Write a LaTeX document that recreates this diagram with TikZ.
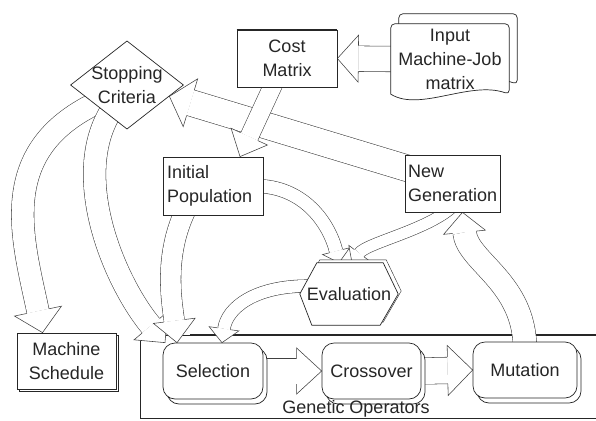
\documentclass[tikz,border=0pt]{standalone}
\usepackage{fontspec}
\setmainfont{Liberation Sans}
\usetikzlibrary{shapes.geometric,decorations.markings,shadows}
\pgfdeclarelayer{back}
\pgfdeclarelayer{arr}
\pgfsetlayers{back,arr,main}

\tikzset{
  lbl/.style={font=\fontsize{18}{24}\selectfont, text=black!85},
  box/.style={lbl, draw=black!85, line width=0.7pt, fill=white, inner sep=4pt},
  rbox/.style={box, rounded corners=12pt, minimum width=100pt, minimum height=56pt,
    copy shadow={shadow xshift=4pt, shadow yshift=-5pt}},
  shapeline/.style={draw=black!85, line width=0.7pt, fill=white},
  shaftline/.style={draw=black!75, line width=0.55pt, double=white},
  headline/.style={draw=black!75, line width=0.55pt, fill=white},
}

% #1 shaft width, #2 head width, #3 head length, #4 path
\newcommand\blockarrow[4]{%
  \draw[shaftline, double distance=#1, shorten >=#3, shorten <=-8pt] #4;
  \path[decorate, decoration={markings, mark=at position 0.9999 with {
    \draw[headline] (-#3,#1/2+0.5pt) -- (-#3,#2/2) -- (0pt,0pt) -- (-#3,-#2/2) -- (-#3,-#1/2-0.5pt);}}] #4;
}

\begin{document}
\begin{tikzpicture}[x=1pt,y=-1pt]
\useasboundingbox (0,0) rectangle (596,420);

% ---------- Genetic operators frame ----------
\begin{pgfonlayer}{back}
  \fill[white] (0,0) rectangle (596,420);
  \node[draw=black!85, line width=0.7pt, minimum width=470pt, minimum height=83pt,
        anchor=north west, inner sep=0pt] (gops) at (140,335) {};
  \draw[black!85, line width=1.4pt] ([xshift=50pt]gops.north west) -- (gops.north east);
\end{pgfonlayer}

% ---------- nodes ----------
\node[diamond, shapeline, lbl, minimum width=113pt, minimum height=86pt,
      inner sep=-5pt, align=center] (stop) at (127,85) {Stopping\\Criteria};

\node[box, minimum width=100pt, minimum height=57pt, align=center] (cost) at (287,58.5) {Cost\\Matrix};
\draw[black!85, line width=1.6pt] (cost.north west) -- (cost.north east);

% input document (stacked pages)
\node[minimum width=118pt, minimum height=70pt, inner sep=0pt] (input) at (450,59) {};
\foreach \dx/\dy in {8/10, 0/0} {
  \draw[shapeline, rounded corners=4pt]
    ([xshift=\dx pt, yshift=\dy pt]input.south west) --
    ([xshift=\dx pt, yshift=\dy pt]input.north west) --
    ([xshift=\dx pt, yshift=\dy pt]input.north east) --
    ([xshift=\dx pt, yshift=\dy pt]input.south east)
    [rounded corners=0pt] .. controls ([xshift=\dx pt-39pt, yshift=\dy pt+14pt]input.south east)
      and ([xshift=\dx pt+29pt, yshift=\dy pt-18pt]input.south west) ..
    ([xshift=\dx pt, yshift=\dy pt]input.south west) -- cycle;
}
\node[lbl, align=center] (inputtxt) at (input.center) {Input\\Machine-Job\\matrix};

\node[box, minimum height=58pt, text width=92pt, align=left] (init) at (213,186) {Initial\\Population};
\node[box, minimum height=57pt, text width=89pt, inner xsep=3pt, align=left] (newgen) at (452.5,183.5) {New\\Generation};

% evaluation hexagon
\node[minimum width=98pt, minimum height=62pt, inner sep=0pt] (eval) at (349,294) {};
\draw[shapeline, copy shadow={shadow xshift=3pt, shadow yshift=3pt}]
  (eval.west) -- ([xshift=17pt]eval.north west) -- ([xshift=-15pt]eval.north east) --
  (eval.east) -- ([xshift=-18pt]eval.south east) -- ([xshift=12pt]eval.south west) -- cycle;
\node[lbl] (evaltxt) at (eval.center) {Evaluation};

\node[rbox] (sel) at (213,371) {Selection};
\node[rbox, minimum width=99pt] (cross) at (371.5,371) {Crossover};
\node[rbox, minimum width=104pt] (mut) at (525,370) {Mutation};

\node[box, minimum width=99pt, minimum height=56pt, align=center,
      copy shadow={shadow xshift=2pt, shadow yshift=-2pt}] (mach) at (66.5,361) {Machine\\Schedule};

\node[lbl] (gopslbl) at (356,409) {Genetic Operators};

% ---------- block arrows ----------
\begin{pgfonlayer}{arr}
  \blockarrow{22pt}{48pt}{22pt}{(stop.210) .. controls +(-100,45) and +(-20,-95) .. ([xshift=-24pt]mach.north)}
  \blockarrow{22pt}{44pt}{22pt}{(stop.238) .. controls +(-40,60) and +(-50,-60) .. ([xshift=-48pt]sel.north)}
  \blockarrow{20pt}{42pt}{22pt}{([xshift=-30pt]init.south) .. controls +(-20,40) and +(-5,-40) .. ([xshift=-36pt]sel.north)}
  \blockarrow{26pt}{50pt}{22pt}{([yshift=16pt]newgen.west) -- (stop.-15)}
  \blockarrow{18pt}{40pt}{22pt}{([xshift=-15pt]cost.south) -- ([xshift=27pt]init.north)}
  \blockarrow{25pt}{47pt}{21pt}{(input.west) -- (cost.east)}
  \blockarrow{13pt}{28pt}{12pt}{(init.east) .. controls +(40,0) and +(-10,-40) .. ([xshift=-10pt]eval.north)}
  \blockarrow{11pt}{26pt}{12pt}{([xshift=-6pt]newgen.south) .. controls +(-20,18) and +(15,-20) .. ([xshift=3pt]eval.north)}
  \blockarrow{23pt}{42pt}{20pt}{(mut.north) .. controls +(0,-60) and +(5,50) .. ([xshift=10pt]newgen.south)}
  \blockarrow{12pt}{30pt}{14pt}{([yshift=8pt]eval.west) .. controls +(-45,0) and +(5,-35) .. ([xshift=9pt]sel.north)}
  \blockarrow{25pt}{46pt}{25pt}{(sel.east) -- (cross.west)}
  \blockarrow{26pt}{50pt}{25pt}{(cross.east) -- (mut.west)}
\end{pgfonlayer}
\end{tikzpicture}
\end{document}
